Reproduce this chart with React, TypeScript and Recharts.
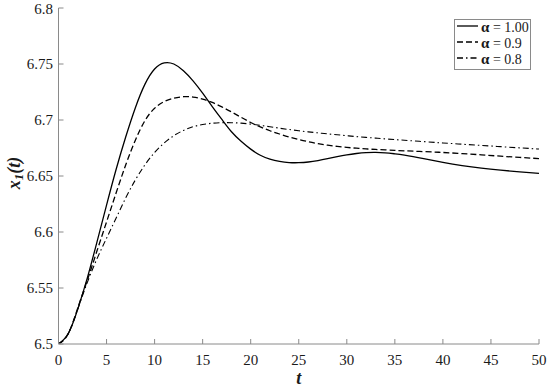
import React from "react";
import { LineChart, Line, XAxis, YAxis, Legend } from "recharts";

const tValues = [0, 1, 2, 3, 4, 5, 6, 7, 8, 9, 10, 11, 12, 13, 14, 15, 16, 17, 18, 19, 20, 21, 22, 23, 24, 25, 26, 27, 28, 29, 30, 31, 32, 33, 34, 35, 36, 38, 40, 42, 44, 46, 48, 50];

const alpha100 = [6.5, 6.509, 6.531, 6.559, 6.591, 6.624, 6.656, 6.685, 6.711, 6.732, 6.7455, 6.751, 6.75, 6.744, 6.735, 6.724, 6.712, 6.7005, 6.6895, 6.681, 6.674, 6.6685, 6.665, 6.663, 6.662, 6.6619, 6.6625, 6.6638, 6.6655, 6.6673, 6.6689, 6.6701, 6.6709, 6.6711, 6.6707, 6.6698, 6.6686, 6.6655, 6.6622, 6.6593, 6.657, 6.6552, 6.6537, 6.6524];

const alpha090 = [6.5, 6.509, 6.532, 6.557, 6.583, 6.609, 6.635, 6.66, 6.682, 6.6995, 6.7105, 6.7165, 6.7195, 6.7208, 6.7205, 6.7187, 6.7157, 6.7117, 6.7072, 6.7024, 6.6978, 6.6938, 6.6904, 6.6875, 6.6849, 6.6826, 6.6806, 6.6789, 6.6775, 6.6764, 6.6755, 6.6748, 6.6742, 6.6737, 6.6733, 6.6729, 6.6725, 6.6718, 6.671, 6.67, 6.6689, 6.6677, 6.6666, 6.6655];

const alpha080 = [6.5, 6.509, 6.531, 6.555, 6.576, 6.5945, 6.6125, 6.6305, 6.6465, 6.66, 6.671, 6.6795, 6.686, 6.6907, 6.694, 6.696, 6.6971, 6.6976, 6.6976, 6.6972, 6.6963, 6.6952, 6.694, 6.6927, 6.6915, 6.6904, 6.6894, 6.6885, 6.6876, 6.6868, 6.686, 6.6852, 6.6845, 6.6838, 6.6831, 6.6825, 6.6819, 6.6807, 6.6795, 6.6784, 6.6773, 6.6762, 6.6751, 6.6741];

const xTicks = [0, 5, 10, 15, 20, 25, 30, 35, 40, 45, 50];
const yTicks = [6.5, 6.55, 6.6, 6.65, 6.7, 6.75, 6.8];
const yTickLabels = ["6.5", "6.55", "6.6", "6.65", "6.7", "6.75", "6.8"];

const seriesNames = ["= 1.00", "= 0.9", "= 0.8"];
const seriesDash = ["", "6 3", "6 3 1.5 3"];

const data = tValues.map((t, i) => ({
  t,
  a100: alpha100[i],
  a090: alpha090[i],
  a080: alpha080[i],
}));

const FONT = '"Liberation Serif", "Times New Roman", serif';
const AXIS_COLOR = "#8a8a8a";
const TEXT_COLOR = "#1a1a1a";

const YTitle = (props: any) => {
  const vb = props.viewBox || { x: 0, y: 0, width: 0, height: 0 };
  const cx = vb.x + 14;
  const cy = vb.y + vb.height / 2 - 3;
  return (
    <text
      x={cx}
      y={cy}
      transform={`rotate(-90, ${cx}, ${cy})`}
      textAnchor="middle"
      dominantBaseline="central"
      fontFamily={FONT}
      fontWeight="bold"
      fontStyle="italic"
      fontSize={18}
      fill={TEXT_COLOR}
    >
      <tspan>x</tspan>
      <tspan fontSize={13} dy={4}>1</tspan>
      <tspan dy={-4}>(t)</tspan>
    </text>
  );
};

const XTitle = (props: any) => {
  const vb = props.viewBox || { x: 0, y: 0, width: 0, height: 0 };
  return (
    <text
      x={vb.x + vb.width / 2}
      y={vb.y + 34}
      textAnchor="middle"
      dominantBaseline="central"
      fontFamily={FONT}
      fontWeight="bold"
      fontStyle="italic"
      fontSize={18}
      fill={TEXT_COLOR}
    >
      t
    </text>
  );
};

const LegendBox = () => (
  <div style={{ width: 77, height: 51, background: "#fff", border: `1px solid ${AXIS_COLOR}`, boxSizing: "border-box" }}>
    <svg width={75} height={49} style={{ display: "block", overflow: "visible" }}>
      {seriesNames.map((name, i) => {
        const y = 6 + i * 16;
        return (
          <g key={name}>
            <line x1={2} x2={23} y1={y} y2={y} stroke="#000" strokeWidth={1.3} strokeDasharray={seriesDash[i] || undefined} />
            <text x={26} y={y + 0.5} dominantBaseline="central" fontFamily={FONT} fontSize={14} fill={TEXT_COLOR}>
              <tspan fontWeight="bold" fontSize={15}>α</tspan>
              <tspan> {name}</tspan>
            </text>
          </g>
        );
      })}
    </svg>
  </div>
);

const emptyTick = () => <g />;

export default function App() {
  return (
    <div style={{ position: "absolute", left: 0, top: 0, background: "#fff" }}>
      <LineChart width={550} height={387} data={data} margin={{ top: 8, right: 11, bottom: 0, left: 0 }}>
        <XAxis
          dataKey="t"
          type="number"
          domain={[0, 50]}
          ticks={xTicks}
          height={43}
          stroke={AXIS_COLOR}
          tickSize={-5}
          tickMargin={15}
          tick={{ fill: TEXT_COLOR, fontFamily: FONT, fontSize: 15 }}
          label={<XTitle />}
          allowDataOverflow
        />
        <XAxis
          xAxisId="top"
          orientation="top"
          dataKey="t"
          type="number"
          domain={[0, 50]}
          ticks={xTicks}
          height={0}
          stroke={AXIS_COLOR}
          tickSize={-5}
          tick={emptyTick}
        />
        <YAxis
          type="number"
          domain={[6.5, 6.8]}
          ticks={yTicks}
          width={58.5}
          stroke={AXIS_COLOR}
          tickSize={-5}
          tickMargin={10.5}
          tickFormatter={(v: number) => yTickLabels[yTicks.indexOf(v)] ?? String(v)}
          tick={{ fill: TEXT_COLOR, fontFamily: FONT, fontSize: 15 }}
          label={<YTitle />}
          allowDataOverflow
        />
        <YAxis
          yAxisId="right"
          orientation="right"
          type="number"
          domain={[6.5, 6.8]}
          ticks={yTicks}
          width={0}
          stroke={AXIS_COLOR}
          tickSize={-5}
          tick={emptyTick}
        />
        <Legend
          layout="horizontal"
          align="center"
          verticalAlign="middle"
          content={<LegendBox />}
          wrapperStyle={{ position: "absolute", top: 19, left: 454, width: 77, height: 51 }}
        />
        <Line type="natural" dataKey="a100" stroke="#000" strokeWidth={1.3} dot={false} isAnimationActive={false} />
        <Line type="natural" dataKey="a090" stroke="#000" strokeWidth={1.3} strokeDasharray="6 3" dot={false} isAnimationActive={false} />
        <Line type="natural" dataKey="a080" stroke="#000" strokeWidth={1.1} strokeDasharray="6 3 1.5 3" dot={false} isAnimationActive={false} />
      </LineChart>
    </div>
  );
}
